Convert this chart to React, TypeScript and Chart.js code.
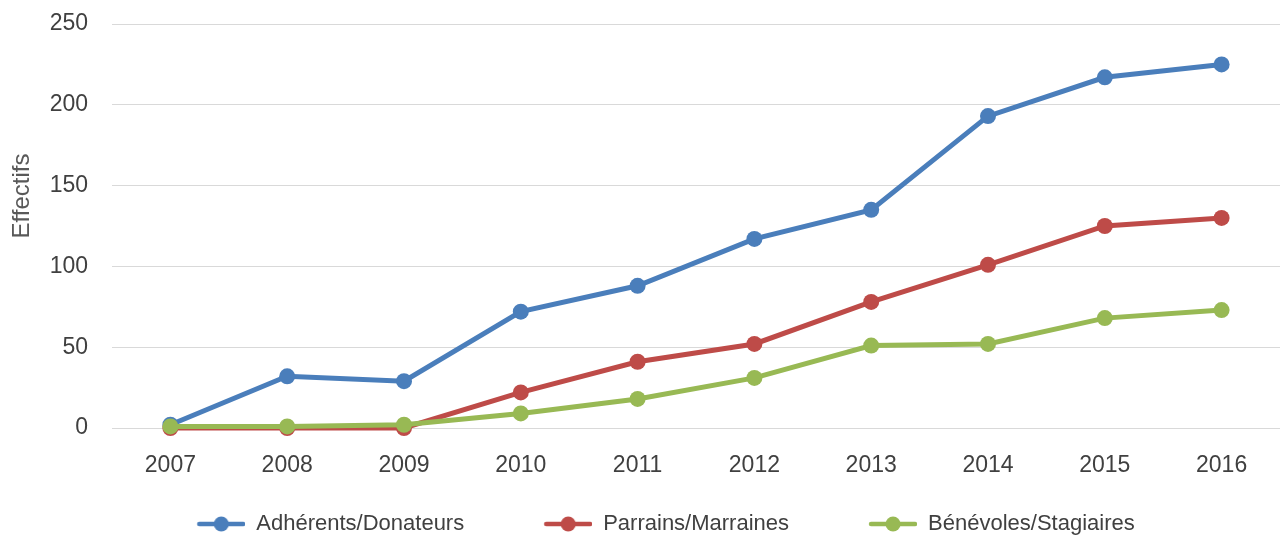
import React, { useEffect, useRef } from "react";
import { Chart, registerables } from "chart.js";

Chart.register(...registerables);

const years = ["2007", "2008", "2009", "2010", "2011", "2012", "2013", "2014", "2015", "2016"];
const adherents = [2, 32, 29, 72, 88, 117, 135, 193, 217, 225];
const parrains = [0, 0, 0, 22, 41, 52, 78, 101, 125, 130];
const benevoles = [1, 1, 2, 9, 18, 31, 51, 52, 68, 73];
const seriesNames = ["Adhérents/Donateurs", "Parrains/Marraines", "Bénévoles/Stagiaires"];
const seriesColors = ["#4A7EBB", "#BE4B48", "#98B954"];
const yTicks = [0, 50, 100, 150, 200, 250];
const yTitle = "Effectifs";

const FONT = "'Liberation Sans', Arial, sans-serif";

function legendSymbol(color: string): HTMLCanvasElement {
  const c = document.createElement("canvas");
  c.width = 118;
  c.height = 20;
  const ctx = c.getContext("2d")!;
  ctx.strokeStyle = color;
  ctx.lineWidth = 4.5;
  ctx.lineCap = "round";
  ctx.beginPath();
  ctx.moveTo(72, 10);
  ctx.lineTo(116, 10);
  ctx.stroke();
  ctx.fillStyle = color;
  ctx.beginPath();
  ctx.arc(94, 10, 7.5, 0, Math.PI * 2);
  ctx.fill();
  return c;
}

export default function App() {
  const ref = useRef<HTMLCanvasElement>(null);
  useEffect(() => {
    document.body.style.margin = "0";
    const symbols = seriesColors.map(legendSymbol);
    const values = [adherents, parrains, benevoles];
    const orders = [2, 1, 0];
    const chart = new Chart(ref.current!, {
      type: "line",
      data: {
        labels: years,
        datasets: values.map((v, i) => ({
          label: seriesNames[i],
          data: v,
          borderColor: seriesColors[i],
          backgroundColor: seriesColors[i],
          pointBackgroundColor: seriesColors[i],
          pointBorderColor: seriesColors[i],
          borderWidth: 5,
          pointRadius: 8,
          pointBorderWidth: 0,
          pointStyle: "circle",
          tension: 0,
          clip: false,
          order: orders[i],
        })),
      },
      options: {
        responsive: false,
        animation: false,
        layout: { autoPadding: false, padding: { top: 24, right: 0, left: -18, bottom: -10 } },
        plugins: {
          tooltip: { enabled: false },
          legend: {
            position: "bottom",
            labels: {
              usePointStyle: true,
              pointStyleWidth: 118,
              padding: 10,
              color: "#404040",
              font: { family: FONT, size: 22 },
              sort: (a: any, b: any) => a.datasetIndex - b.datasetIndex,
              generateLabels: (ch: any) => {
                const items = (Chart.defaults.plugins.legend.labels as any).generateLabels(ch);
                return items.map((it: any) => ({ ...it, pointStyle: symbols[it.datasetIndex] }));
              },
            },
          },
        },
        scales: {
          x: {
            offset: true,
            grid: { display: false, drawTicks: false },
            border: { display: false },
            ticks: { color: "#404040", font: { family: FONT, size: 23 }, padding: 24, maxRotation: 0 },
            afterFit: (s: any) => {
              s.height = 75;
              s.paddingLeft = 0;
              s.paddingRight = 0;
            },
          },
          y: {
            min: 0,
            max: 250,
            afterBuildTicks: (s: any) => {
              s.ticks = yTicks.map((v) => ({ value: v }));
            },
            grid: { color: "#D9D9D9", lineWidth: 1, drawTicks: false },
            border: { display: false },
            ticks: { color: "#404040", font: { family: FONT, size: 23 }, padding: 24 },
            title: {
              display: true,
              text: "         " + yTitle,
              color: "#595959",
              font: { family: FONT, size: 24 },
              padding: { top: 26, bottom: 0 },
            },
            afterFit: (s: any) => {
              s.width = 130;
              s.paddingTop = 0;
              s.paddingBottom = 0;
            },
          },
        },
      },
    });
    return () => chart.destroy();
  }, []);
  return (
    <canvas
      ref={ref}
      width={1280}
      height={535}
      style={{ position: "fixed", left: 0, top: 0, width: 1280, height: 535 }}
    />
  );
}
